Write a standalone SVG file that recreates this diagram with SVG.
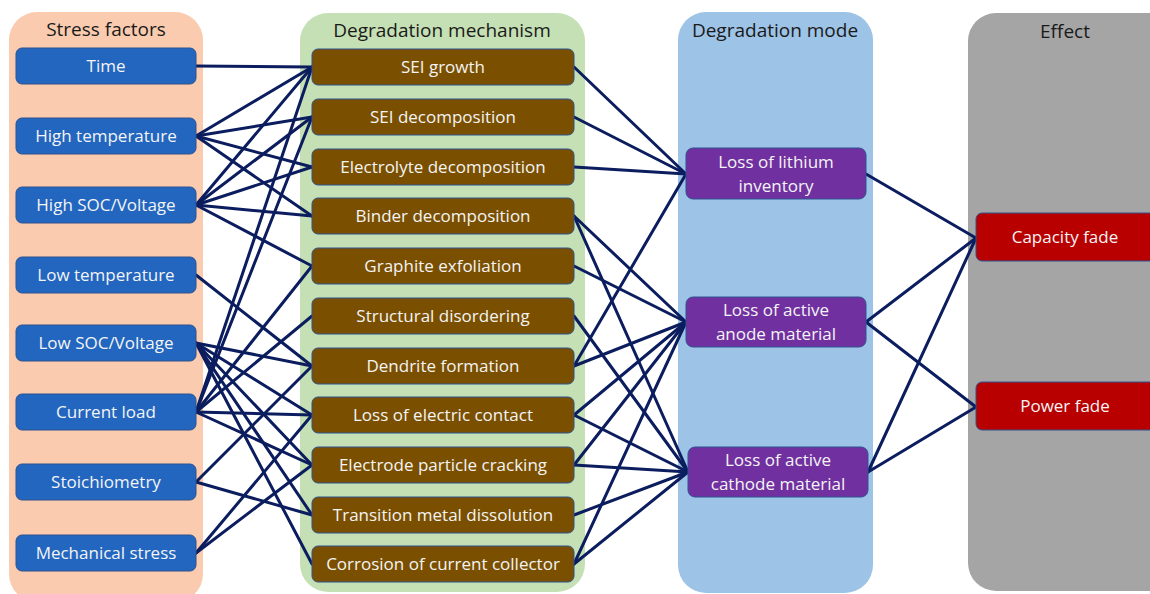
<svg xmlns="http://www.w3.org/2000/svg" width="1150" height="594" viewBox="0 0 1150 594">
<style>
.title{font-family:"Open Sans","Liberation Sans",sans-serif;font-size:19px;fill:#1a1a1a;text-anchor:middle}
.lbl{font-family:"Open Sans","Liberation Sans",sans-serif;font-size:17px;fill:#f4f4f4;text-anchor:middle}
.sf{fill:#2266C0;stroke:#2F528F;stroke-width:1}
.dm{fill:#7A5000;stroke:#2F528F;stroke-width:1}
.mo{fill:#7030A0;stroke:#2F528F;stroke-width:1}
.ef{fill:#B80000;stroke:#2F528F;stroke-width:1}
#connectors line{stroke:#0B1D5E;stroke-width:3;stroke-linecap:round}
</style>
<rect width="1150" height="594" fill="#ffffff"/>
<g id="panel-stress"><rect x="9" y="12" width="194" height="590" rx="28" fill="#FACBAE"/><text class="title" x="106" y="36">Stress factors</text></g>
<g id="panel-mechanism"><rect x="300" y="13" width="285" height="579" rx="28" fill="#C5E0B4"/><text class="title" x="442" y="37">Degradation mechanism</text></g>
<g id="panel-mode"><rect x="678" y="12" width="195" height="581" rx="28" fill="#9DC3E6"/><text class="title" x="775" y="37">Degradation mode</text></g>
<g id="panel-effect"><rect x="968" y="13" width="220" height="578" rx="28" fill="#A5A5A5"/><text class="title" x="1065" y="38">Effect</text></g>
<g id="connectors">
<line x1="196" y1="66" x2="312" y2="67"/>
<line x1="196" y1="136" x2="312" y2="67"/>
<line x1="196" y1="136" x2="312" y2="117"/>
<line x1="196" y1="136" x2="312" y2="167"/>
<line x1="196" y1="136" x2="312" y2="216"/>
<line x1="196" y1="205" x2="312" y2="67"/>
<line x1="196" y1="205" x2="312" y2="117"/>
<line x1="196" y1="205" x2="312" y2="167"/>
<line x1="196" y1="205" x2="312" y2="216"/>
<line x1="196" y1="205" x2="312" y2="266"/>
<line x1="196" y1="275" x2="312" y2="366"/>
<line x1="196" y1="343" x2="312" y2="366"/>
<line x1="196" y1="343" x2="312" y2="415"/>
<line x1="196" y1="343" x2="312" y2="465"/>
<line x1="196" y1="343" x2="312" y2="515"/>
<line x1="196" y1="343" x2="312" y2="564"/>
<line x1="196" y1="412" x2="312" y2="67"/>
<line x1="196" y1="412" x2="312" y2="117"/>
<line x1="196" y1="412" x2="312" y2="266"/>
<line x1="196" y1="412" x2="312" y2="316"/>
<line x1="196" y1="412" x2="312" y2="415"/>
<line x1="196" y1="412" x2="312" y2="465"/>
<line x1="196" y1="482" x2="312" y2="366"/>
<line x1="196" y1="482" x2="312" y2="515"/>
<line x1="196" y1="553" x2="312" y2="415"/>
<line x1="196" y1="553" x2="312" y2="465"/>
<line x1="574" y1="67" x2="686" y2="174"/>
<line x1="574" y1="117" x2="686" y2="174"/>
<line x1="574" y1="167" x2="686" y2="174"/>
<line x1="574" y1="216" x2="686" y2="322"/>
<line x1="574" y1="216" x2="688" y2="472"/>
<line x1="574" y1="266" x2="686" y2="322"/>
<line x1="574" y1="316" x2="688" y2="472"/>
<line x1="574" y1="366" x2="686" y2="174"/>
<line x1="574" y1="366" x2="686" y2="322"/>
<line x1="574" y1="415" x2="686" y2="322"/>
<line x1="574" y1="415" x2="688" y2="472"/>
<line x1="574" y1="465" x2="686" y2="322"/>
<line x1="574" y1="465" x2="688" y2="472"/>
<line x1="574" y1="515" x2="688" y2="472"/>
<line x1="574" y1="564" x2="686" y2="322"/>
<line x1="574" y1="564" x2="688" y2="472"/>
<line x1="866" y1="174" x2="976" y2="238"/>
<line x1="866" y1="322" x2="976" y2="238"/>
<line x1="866" y1="322" x2="976" y2="407"/>
<line x1="868" y1="472" x2="976" y2="238"/>
<line x1="868" y1="472" x2="976" y2="407"/>
</g>
<g id="sf-time"><rect class="sf" x="16" y="48" width="180" height="36" rx="6"/><text class="lbl" x="106" y="72">Time</text></g>
<g id="sf-high-temp"><rect class="sf" x="16" y="118" width="180" height="36" rx="6"/><text class="lbl" x="106" y="142">High temperature</text></g>
<g id="sf-high-soc"><rect class="sf" x="16" y="187" width="180" height="36" rx="6"/><text class="lbl" x="106" y="211">High SOC/Voltage</text></g>
<g id="sf-low-temp"><rect class="sf" x="16" y="257" width="180" height="36" rx="6"/><text class="lbl" x="106" y="281">Low temperature</text></g>
<g id="sf-low-soc"><rect class="sf" x="16" y="325" width="180" height="36" rx="6"/><text class="lbl" x="106" y="349">Low SOC/Voltage</text></g>
<g id="sf-current"><rect class="sf" x="16" y="394" width="180" height="36" rx="6"/><text class="lbl" x="106" y="418">Current load</text></g>
<g id="sf-stoich"><rect class="sf" x="16" y="464" width="180" height="36" rx="6"/><text class="lbl" x="106" y="488">Stoichiometry</text></g>
<g id="sf-mech"><rect class="sf" x="16" y="535" width="180" height="36" rx="6"/><text class="lbl" x="106" y="559">Mechanical stress</text></g>
<g id="dm-sei-growth"><rect class="dm" x="312" y="49" width="262" height="36" rx="6"/><text class="lbl" x="443" y="73">SEI growth</text></g>
<g id="dm-sei-decomp"><rect class="dm" x="312" y="99" width="262" height="36" rx="6"/><text class="lbl" x="443" y="123">SEI decomposition</text></g>
<g id="dm-electrolyte"><rect class="dm" x="312" y="149" width="262" height="36" rx="6"/><text class="lbl" x="443" y="173">Electrolyte decomposition</text></g>
<g id="dm-binder"><rect class="dm" x="312" y="198" width="262" height="36" rx="6"/><text class="lbl" x="443" y="222">Binder decomposition</text></g>
<g id="dm-graphite"><rect class="dm" x="312" y="248" width="262" height="36" rx="6"/><text class="lbl" x="443" y="272">Graphite exfoliation</text></g>
<g id="dm-structural"><rect class="dm" x="312" y="298" width="262" height="36" rx="6"/><text class="lbl" x="443" y="322">Structural disordering</text></g>
<g id="dm-dendrite"><rect class="dm" x="312" y="348" width="262" height="36" rx="6"/><text class="lbl" x="443" y="372">Dendrite formation</text></g>
<g id="dm-contact"><rect class="dm" x="312" y="397" width="262" height="36" rx="6"/><text class="lbl" x="443" y="421">Loss of electric contact</text></g>
<g id="dm-cracking"><rect class="dm" x="312" y="447" width="262" height="36" rx="6"/><text class="lbl" x="443" y="471">Electrode particle cracking</text></g>
<g id="dm-tm"><rect class="dm" x="312" y="497" width="262" height="36" rx="6"/><text class="lbl" x="443" y="521">Transition metal dissolution</text></g>
<g id="dm-corrosion"><rect class="dm" x="312" y="546" width="262" height="36" rx="6"/><text class="lbl" x="443" y="570">Corrosion of current collector</text></g>
<g id="mo-lli"><rect class="mo" x="686" y="148" width="180" height="51" rx="7"/><text class="lbl" x="776" y="168">Loss of lithium</text><text class="lbl" x="776" y="192">inventory</text></g>
<g id="mo-anode"><rect class="mo" x="686" y="297" width="180" height="50" rx="7"/><text class="lbl" x="776" y="316">Loss of active</text><text class="lbl" x="776" y="340">anode material</text></g>
<g id="mo-cathode"><rect class="mo" x="688" y="447" width="180" height="50" rx="7"/><text class="lbl" x="778" y="466">Loss of active</text><text class="lbl" x="778" y="490">cathode material</text></g>
<g id="ef-capacity"><rect class="ef" x="976" y="213" width="190" height="48" rx="6"/><text class="lbl" x="1065" y="243">Capacity fade</text></g>
<g id="ef-power"><rect class="ef" x="976" y="382" width="190" height="48" rx="6"/><text class="lbl" x="1065" y="412">Power fade</text></g>
</svg>
